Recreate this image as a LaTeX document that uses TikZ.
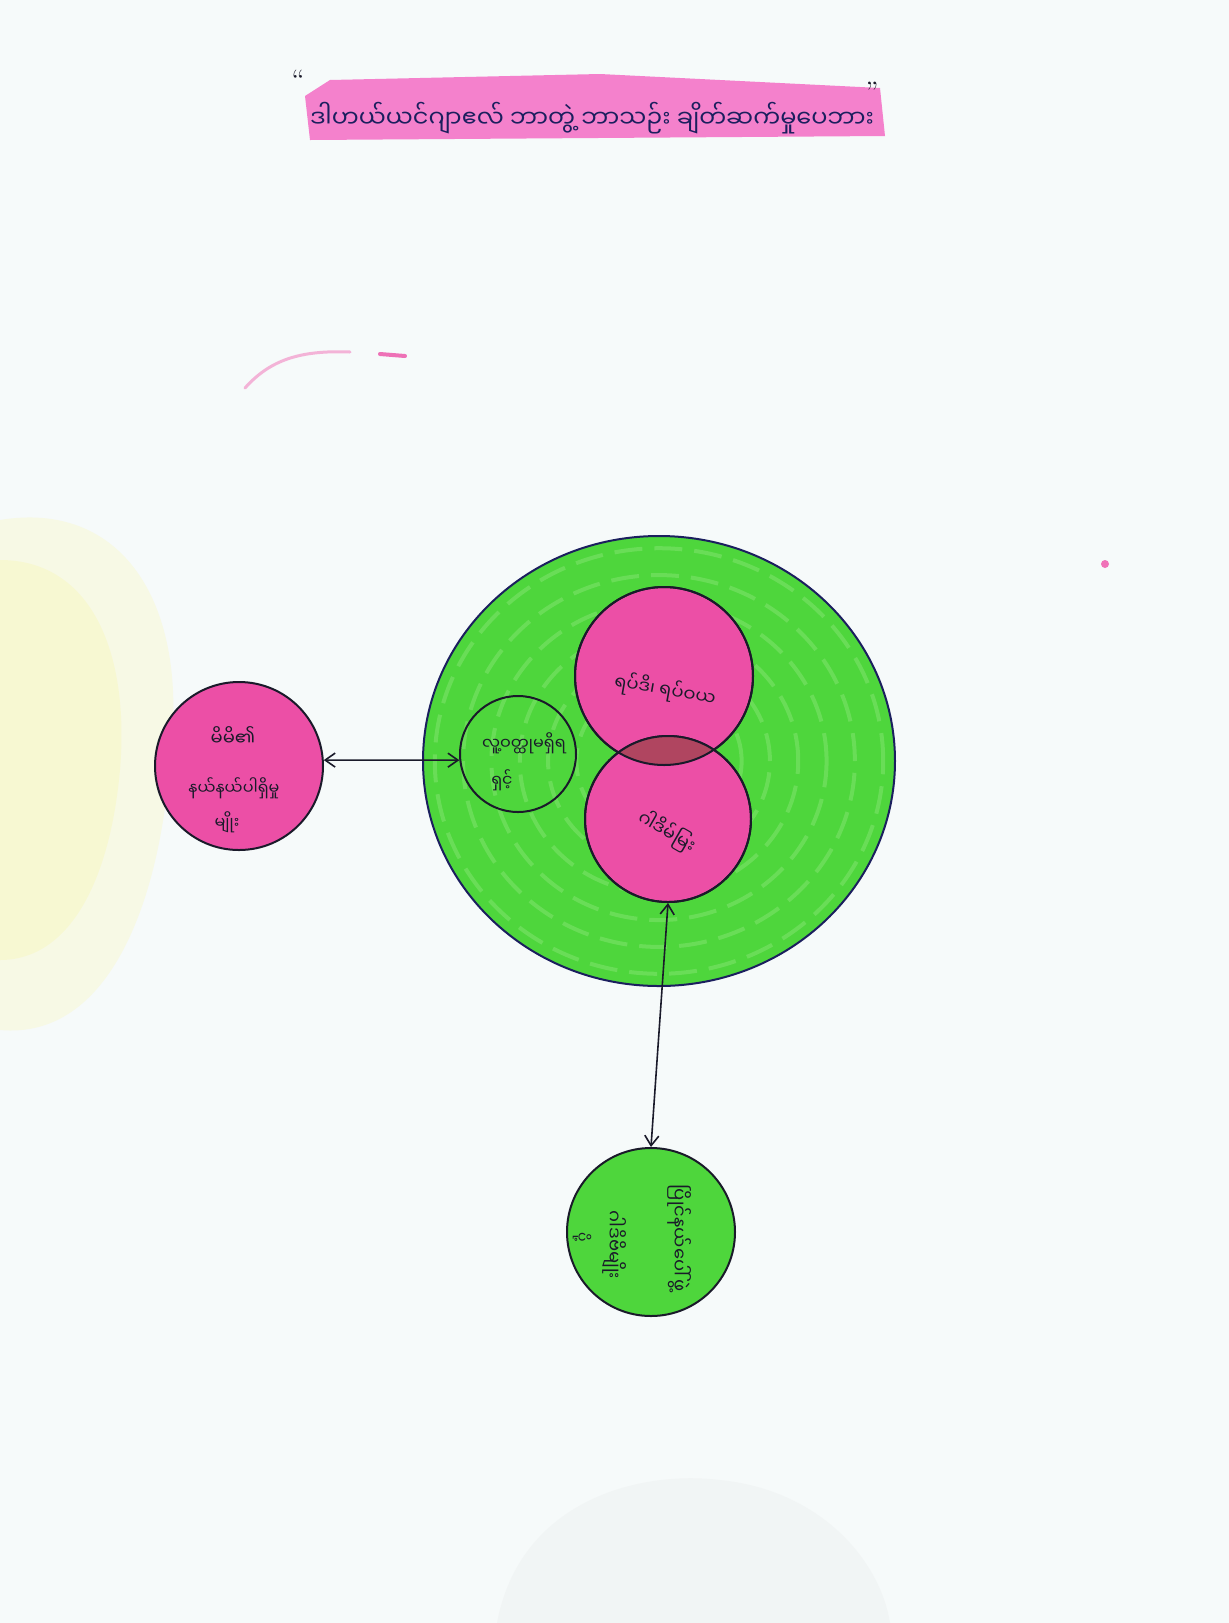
\documentclass[tikz,border=0pt]{standalone}
\usepackage{fontspec}
\newfontfamily\mya[Script=Myanmar]{Noto Sans Myanmar UI}
\usetikzlibrary{shapes.geometric,arrows.meta}
\definecolor{bg}{HTML}{F6FAFA}
\definecolor{gr}{HTML}{4ED63C}
\definecolor{grl}{HTML}{9CEB8A}
\definecolor{pk}{HTML}{EC4FA6}
\definecolor{hl}{HTML}{F46CC4}
\definecolor{lens}{HTML}{B04560}
\definecolor{ink}{HTML}{1A1A2A}
\definecolor{navy}{HTML}{1B1F5E}
\tikzset{
  circ/.style={circle, draw=ink, line width=1pt, inner sep=0pt},
  lbl/.style={font=\mya\fontsize{9}{11}\selectfont, text=ink, inner sep=0pt},
  conn/.style={draw=ink, line width=0.8pt, {Straight Barb[length=5pt,width=7pt]}-{Straight Barb[length=5pt,width=7pt]}},
}
\begin{document}
\begin{tikzpicture}[x=0.5pt,y=-0.5pt]
\useasboundingbox (0,0) rectangle (1229,1623);
\fill[bg] (0,0) rectangle (1229,1623);
% background smudges
\fill[yellow!60, opacity=0.14] (0,520) .. controls (120,500) and (190,600) .. (170,760) .. controls (160,900) and (110,1040) .. (0,1030) -- cycle;
\fill[yellow!70, opacity=0.12] (0,560) .. controls (90,560) and (130,650) .. (120,770) .. controls (110,880) and (70,960) .. (0,960) -- cycle;
\fill[gray!30, opacity=0.15] (497,1623) .. controls (520,1500) and (640,1470) .. (720,1480) .. controls (820,1490) and (880,1560) .. (890,1623) -- cycle;
\draw[pk!70, opacity=0.6, line width=1.5pt, line cap=round] (245,388) .. controls (270,360) and (300,350) .. (350,352);
\draw[pk, opacity=0.8, line width=2pt, line cap=round] (380,354) -- (405,356);
\fill[pk!80] (1105,564) circle[radius=2pt];
% title
\fill[hl, opacity=0.85] (305,96) -- (330,80) -- (600,74) -- (880,88) -- (885,136) -- (310,140) -- cycle;
\node[font=\mya\fontsize{12}{14}\selectfont, text=navy, inner sep=0pt] (title) at (592,118) {ဒါဟယ်ယင်ဂျာဧလ် ဘာတွဲ့ ဘာသဉ်း ချိတ်ဆက်မှုပေဘား};
\node[font=\fontsize{14}{14}\selectfont, text=ink, inner sep=0pt] (oq) at (298,80) {“};
\node[font=\fontsize{14}{14}\selectfont, text=ink, inner sep=0pt] (cq) at (872,92) {”};
% big green circle
\node[ellipse, draw=navy, line width=1pt, fill=gr, minimum width=236pt, minimum height=225pt, inner sep=0pt] (big) at (659,761) {};
\foreach \s in {0.95,0.83,0.71,0.59,0.47,0.35}
  \draw[grl, opacity=0.35, line width=2pt, dash pattern=on 14pt off 6pt] (659,761) ellipse[x radius=\s*118pt, y radius=\s*112pt];
% pink circles with overlap
\node[circ, fill=pk, minimum size=89pt] (top) at (664,676) {};
\node[circ, fill=pk, minimum size=83pt] (bot) at (668,819) {};
\begin{scope}
  \clip (664,676) circle[radius=44.5pt];
  \fill[lens] (668,819) circle[radius=41.5pt];
\end{scope}
\draw[ink, line width=1pt] (664,676) circle[radius=44.5pt];
\draw[ink, line width=1pt] (668,819) circle[radius=41.5pt];
% small circle
\node[circ, minimum size=58pt] (small) at (518,754) {};
% left pink circle
\node[circ, fill=pk, minimum size=84pt] (left) at (239,766) {};
% bottom green circle
\node[circ, fill=gr, minimum size=84pt] (bg) at (651,1232) {};
% labels
\node[lbl] (l1) at (233,736) {မိမိ၏};
\node[lbl, font=\mya\fontsize{8}{10}\selectfont] (l2) at (234,788) {နယ်နယ်ပါရှိမှု};
\node[lbl, font=\mya\fontsize{8}{10}\selectfont] (l3) at (227,822) {မျိုး};
\node[lbl, font=\mya\fontsize{8}{10}\selectfont] (s1) at (524,743) {လူ့ဝတ္ထုမရှိရ};
\node[lbl, font=\mya\fontsize{8}{10}\selectfont] (s2) at (502,780) {ရှင့်};
\node[lbl, rotate=-10] (t1) at (665,690) {ရပ်ဒိ၊ ရပ်ဝယ};
\node[lbl, rotate=-30] (b1) at (667,832) {ဂါဒိမ်မြး};
\node[lbl, rotate=-90] (g1) at (680,1238) {ပြိုင်နယ်ပေါ်ဖွဲ့};
\node[lbl, rotate=-90] (g2) at (615,1245) {ဂါဒိဗိမျိုး};
\node[lbl, rotate=-90, font=\mya\fontsize{7}{9}\selectfont] (g3) at (582,1237) {ပို့};
% connectors
\draw[conn] (left.4) -- (small.186);
\draw[conn] (bot.south) -- (bg.north);
\end{tikzpicture}
\end{document}
